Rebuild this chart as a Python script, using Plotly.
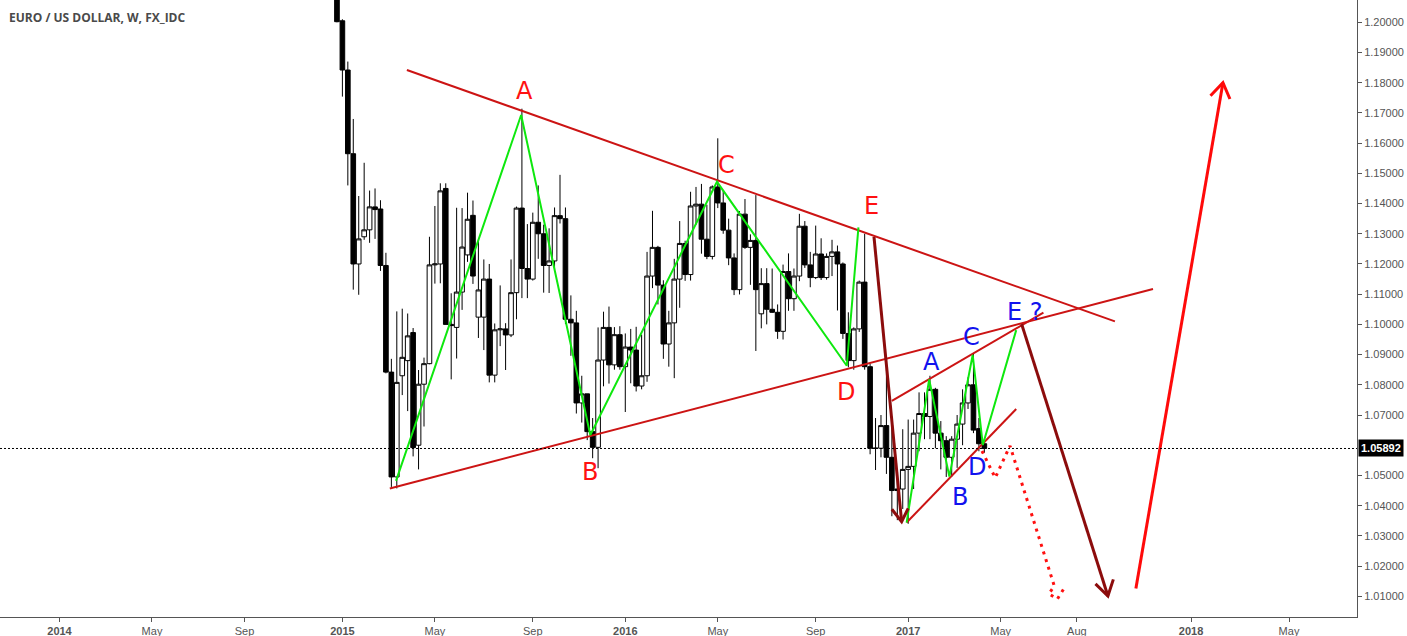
import plotly.graph_objects as go

# ---------------- weekly candles (EUR/USD, W) ----------------
weeks = [
    "2014-12-29", "2015-01-05", "2015-01-12", "2015-01-19", "2015-01-26", "2015-02-02", "2015-02-09",
    "2015-02-16", "2015-02-23", "2015-03-02", "2015-03-09", "2015-03-16", "2015-03-23", "2015-03-30",
    "2015-04-06", "2015-04-13", "2015-04-20", "2015-04-27", "2015-05-04", "2015-05-11", "2015-05-18",
    "2015-05-25", "2015-06-01", "2015-06-08", "2015-06-15", "2015-06-22", "2015-06-29", "2015-07-06",
    "2015-07-13", "2015-07-20", "2015-07-27", "2015-08-03", "2015-08-10", "2015-08-17", "2015-08-24",
    "2015-08-31", "2015-09-07", "2015-09-14", "2015-09-21", "2015-09-28", "2015-10-05", "2015-10-12",
    "2015-10-19", "2015-10-26", "2015-11-02", "2015-11-09", "2015-11-16", "2015-11-23", "2015-11-30",
    "2015-12-07", "2015-12-14", "2015-12-21", "2015-12-28", "2016-01-04", "2016-01-11", "2016-01-18",
    "2016-01-25", "2016-02-01", "2016-02-08", "2016-02-15", "2016-02-22", "2016-02-29", "2016-03-07",
    "2016-03-14", "2016-03-21", "2016-03-28", "2016-04-04", "2016-04-11", "2016-04-18", "2016-04-25",
    "2016-05-02", "2016-05-09", "2016-05-16", "2016-05-23", "2016-05-30", "2016-06-06", "2016-06-13",
    "2016-06-20", "2016-06-27", "2016-07-04", "2016-07-11", "2016-07-18", "2016-07-25", "2016-08-01",
    "2016-08-08", "2016-08-15", "2016-08-22", "2016-08-29", "2016-09-05", "2016-09-12", "2016-09-19",
    "2016-09-26", "2016-10-03", "2016-10-10", "2016-10-17", "2016-10-24", "2016-10-31", "2016-11-07",
    "2016-11-14", "2016-11-21", "2016-11-28", "2016-12-05", "2016-12-12", "2016-12-19", "2016-12-26",
    "2017-01-02", "2017-01-09", "2017-01-16", "2017-01-23", "2017-01-30", "2017-02-06", "2017-02-13",
    "2017-02-20", "2017-02-27", "2017-03-06", "2017-03-13", "2017-03-20", "2017-03-27", "2017-04-03",
    "2017-04-10",
]
opens = [
    1.2195, 1.2005, 1.1842, 1.1565, 1.1200, 1.1290, 1.1313, 1.1389, 1.1382, 1.1195, 1.0842, 1.0495,
    1.0830, 1.0880, 1.0973, 1.0600, 1.0802, 1.0870, 1.1197, 1.1200, 1.1450, 1.1000, 1.0990, 1.1107,
    1.1230, 1.1361, 1.1024, 1.1024, 1.1150, 1.0832, 1.0982, 1.0985, 1.0965, 1.1105, 1.1385, 1.1185,
    1.1150, 1.1338, 1.1300, 1.1195, 1.1210, 1.1360, 1.1350, 1.1017, 1.1005, 1.0740, 1.0770, 1.0645,
    1.0593, 1.0882, 1.0990, 1.0866, 1.0966, 1.0860, 1.0925, 1.0915, 1.0796, 1.0830, 1.1160, 1.1255,
    1.1130, 1.0935, 1.1005, 1.1150, 1.1268, 1.1165, 1.1392, 1.1398, 1.1282, 1.1225, 1.1455, 1.1402,
    1.1312, 1.1220, 1.1115, 1.1365, 1.1255, 1.1278, 1.1035, 1.1135, 1.1050, 1.1040, 1.0977, 1.1175,
    1.1085, 1.1160, 1.1325, 1.1197, 1.1155, 1.1233, 1.1155, 1.1225, 1.1240, 1.1200, 1.0970, 1.0880,
    1.0985, 1.1140, 1.0860, 1.0590, 1.0590, 1.0665, 1.0560, 1.0450, 1.0455, 1.0520, 1.0530, 1.0640,
    1.0705, 1.0695, 1.0785, 1.0640, 1.0615, 1.0560, 1.0620, 1.0670, 1.0740, 1.0800, 1.0655, 1.0605,
]
highs = [
    1.2250, 1.2010, 1.1870, 1.1680, 1.1425, 1.1535, 1.1443, 1.1450, 1.1411, 1.1237, 1.0886, 1.1043,
    1.1052, 1.1036, 1.0988, 1.0849, 1.0890, 1.1290, 1.1392, 1.1467, 1.1467, 1.1103, 1.1386, 1.1385,
    1.1436, 1.1410, 1.1278, 1.1215, 1.1200, 1.1003, 1.1129, 1.1004, 1.1215, 1.1390, 1.1714, 1.1332,
    1.1370, 1.1460, 1.1330, 1.1318, 1.1387, 1.1495, 1.1387, 1.1096, 1.1045, 1.0830, 1.0770, 1.0690,
    1.0990, 1.1042, 1.1059, 1.0991, 1.0994, 1.0970, 1.0985, 1.0992, 1.0966, 1.1240, 1.1376, 1.1260,
    1.1146, 1.1045, 1.1217, 1.1342, 1.1277, 1.1439, 1.1455, 1.1465, 1.1396, 1.1460, 1.1616, 1.1444,
    1.1350, 1.1235, 1.1375, 1.1415, 1.1298, 1.1428, 1.1186, 1.1186, 1.1185, 1.1066, 1.1198, 1.1235,
    1.1185, 1.1366, 1.1342, 1.1240, 1.1327, 1.1285, 1.1235, 1.1280, 1.1261, 1.1205, 1.1040, 1.0990,
    1.1145, 1.1300, 1.0870, 1.0690, 1.0700, 1.0875, 1.0670, 1.0500, 1.0653, 1.0685, 1.0685, 1.0775,
    1.0775, 1.0830, 1.0790, 1.0680, 1.0630, 1.0630, 1.0700, 1.0785, 1.0825, 1.0905, 1.0690, 1.0620,
]
lows = [
    1.2000, 1.1754, 1.1460, 1.1115, 1.1098, 1.1280, 1.1270, 1.1283, 1.1177, 1.0838, 1.0462, 1.0457,
    1.0766, 1.0713, 1.0563, 1.0520, 1.0662, 1.0868, 1.1135, 1.1136, 1.1000, 1.0818, 1.0887, 1.1048,
    1.1207, 1.1134, 1.0955, 1.0915, 1.0808, 1.0808, 1.0928, 1.0849, 1.0958, 1.1017, 1.1087, 1.1087,
    1.1145, 1.1217, 1.1105, 1.1104, 1.1180, 1.1334, 1.1001, 1.0896, 1.0705, 1.0675, 1.0617, 1.0557,
    1.0524, 1.0795, 1.0804, 1.0850, 1.0850, 1.0710, 1.0805, 1.0778, 1.0785, 1.0810, 1.1120, 1.1066,
    1.0886, 1.0860, 1.0822, 1.1055, 1.1144, 1.1145, 1.1330, 1.1234, 1.1216, 1.1215, 1.1385, 1.1300,
    1.1196, 1.1097, 1.1099, 1.1250, 1.1131, 1.0912, 1.0987, 1.1000, 1.1038, 1.0952, 1.0950, 1.1045,
    1.1045, 1.1143, 1.1187, 1.1123, 1.1150, 1.1147, 1.1148, 1.1160, 1.1046, 1.0952, 1.0858, 1.0850,
    1.0975, 1.0850, 1.0570, 1.0518, 1.0560, 1.0505, 1.0365, 1.0352, 1.0389, 1.0340, 1.0455, 1.0580,
    1.0620, 1.0620, 1.0590, 1.0520, 1.0495, 1.0495, 1.0525, 1.0600, 1.0720, 1.0640, 1.0580, 1.0575,
]
closes = [
    1.2002, 1.1842, 1.1565, 1.1200, 1.1283, 1.1313, 1.1389, 1.1380, 1.1195, 1.0842, 1.0495, 1.0808,
    1.0891, 1.0962, 1.0592, 1.0802, 1.0870, 1.1197, 1.1200, 1.1442, 1.1000, 1.0996, 1.1107, 1.1256,
    1.1348, 1.1160, 1.1114, 1.1150, 1.0832, 1.0982, 1.0985, 1.0965, 1.1105, 1.1385, 1.1185, 1.1150,
    1.1338, 1.1300, 1.1195, 1.1210, 1.1360, 1.1350, 1.1017, 1.1005, 1.0740, 1.0770, 1.0645, 1.0593,
    1.0882, 1.0990, 1.0866, 1.0966, 1.0860, 1.0925, 1.0915, 1.0796, 1.0830, 1.1160, 1.1255, 1.1130,
    1.0935, 1.1005, 1.1150, 1.1268, 1.1165, 1.1392, 1.1398, 1.1282, 1.1225, 1.1455, 1.1402, 1.1312,
    1.1220, 1.1115, 1.1365, 1.1255, 1.1278, 1.1115, 1.1135, 1.1050, 1.1040, 1.0977, 1.1175, 1.1085,
    1.1160, 1.1325, 1.1197, 1.1155, 1.1233, 1.1155, 1.1225, 1.1240, 1.1200, 1.0970, 1.0880, 1.0985,
    1.1140, 1.0860, 1.0590, 1.0590, 1.0665, 1.0560, 1.0450, 1.0455, 1.0520, 1.0530, 1.0640, 1.0705,
    1.0695, 1.0785, 1.0640, 1.0615, 1.0560, 1.0620, 1.0670, 1.0740, 1.0800, 1.0650, 1.0605, 1.05892,
]

# ---------------- drawings (date, price) ----------------
upper_line_x = ["2015-03-29", "2017-09-25"]
upper_line_y = [1.1842, 1.1010]
lower_line_x = ["2015-03-07", "2017-11-13"]
lower_line_y = [1.0457, 1.1117]

green_big_x = ["2015-03-15", "2015-08-23", "2015-11-20", "2016-05-01", "2016-10-15", "2016-10-30"]
green_big_y = [1.0482, 1.1693, 1.0634, 1.1472, 1.0863, 1.1321]

green_small_x = ["2016-12-31", "2017-01-29", "2017-02-24", "2017-03-26", "2017-04-08", "2017-05-21"]
green_small_y = [1.0344, 1.0818, 1.0496, 1.0899, 1.0601, 1.0981]

wedge_upper_x = ["2016-12-12", "2017-06-25"]
wedge_upper_y = [1.0747, 1.1039]
wedge_lower_x = ["2016-12-31", "2017-05-21"]
wedge_lower_y = [1.0344, 1.0720]

arrow1_x = ["2016-11-19", "2016-12-24 14:00", None, "2016-12-12", "2016-12-24 14:00", "2017-01-02"]
arrow1_y = [1.1290, 1.0347, None, 1.0388, 1.0347, 1.0391]

arrow2_x = ["2017-05-28", "2017-09-16", None, "2017-08-31", "2017-09-16", "2017-09-23"]
arrow2_y = [1.1001, 1.0101, None, 1.0141, 1.0101, 1.0156]

arrow3_x = ["2017-10-22", "2018-02-11", None, "2018-01-26", "2018-02-11", "2018-02-20"]
arrow3_y = [1.0126, 1.1800, None, 1.1757, 1.1800, 1.1746]

proj_x = ["2017-04-07", "2017-04-24", "2017-05-13", "2017-07-09", "2017-07-02", "2017-07-13", "2017-07-21"]
proj_y = [1.0581, 1.0492, 1.0598, 1.0134, 1.0108, 1.0091, 1.0124]

red_labels = ["A", "B", "C", "D", "E"]
red_label_x = ["2015-08-27", "2015-11-19", "2016-05-13", "2016-10-14", "2016-11-16"]
red_label_y = [1.1773, 1.0512, 1.1528, 1.0777, 1.1392]

blue_labels = ["A", "B", "C", "D", "E ?"]
blue_label_x = ["2017-02-01", "2017-03-10", "2017-03-24", "2017-04-01", "2017-06-01"]
blue_label_y = [1.0877, 1.0429, 1.0958, 1.0528, 1.1040]

# 1.06 is hidden behind the last-price label
price_ticks = [1.01, 1.02, 1.03, 1.04, 1.05, 1.07, 1.08, 1.09, 1.10,
               1.11, 1.12, 1.13, 1.14, 1.15, 1.16, 1.17, 1.18, 1.19, 1.20]
time_tick_vals = ["2014-01-06", "2014-05-05", "2014-09-01", "2015-01-05", "2015-05-04", "2015-09-07",
                  "2016-01-04", "2016-05-02", "2016-09-05", "2017-01-02", "2017-05-01", "2017-08-07",
                  "2018-01-01", "2018-05-07"]
time_tick_text = ["<b>2014</b>", "May", "Sep", "<b>2015</b>", "May", "Sep", "<b>2016</b>", "May", "Sep",
                  "<b>2017</b>", "May", "Aug", "<b>2018</b>", "May"]

fig = go.Figure()

fig.add_trace(go.Candlestick(
    x=weeks, open=opens, high=highs, low=lows, close=closes,
    increasing=dict(fillcolor="white", line=dict(color="black", width=1)),
    decreasing=dict(fillcolor="black", line=dict(color="black", width=1)),
    whiskerwidth=0, showlegend=False, hoverinfo="skip",
))

def line(xs, ys, color, width, dash="solid"):
    fig.add_trace(go.Scatter(x=xs, y=ys, mode="lines", showlegend=False, hoverinfo="skip",
                             line=dict(color=color, width=width, dash=dash)))

TREND = "#cc1414"
GREEN = "#0ee80e"
DARK = "#8c0c0c"
line(upper_line_x, upper_line_y, TREND, 2)
line(lower_line_x, lower_line_y, TREND, 2)
line(wedge_upper_x, wedge_upper_y, TREND, 2)
line(wedge_lower_x, wedge_lower_y, TREND, 2)
line(green_big_x, green_big_y, GREEN, 2)
line(green_small_x, green_small_y, GREEN, 2)
line(arrow1_x, arrow1_y, DARK, 3)
line(arrow2_x, arrow2_y, DARK, 3)
line(arrow3_x, arrow3_y, "#ff0a0a", 3)
line(proj_x, proj_y, "#ff1010", 3, dash="3px,5px")

annotations = []
for t, xx, yy in zip(red_labels, red_label_x, red_label_y):
    annotations.append(dict(x=xx, y=yy, xref="x", yref="y", text=t, showarrow=False,
                            font=dict(family="DejaVu Sans", size=24, color="#ff1111")))
for t, xx, yy in zip(blue_labels, blue_label_x, blue_label_y):
    annotations.append(dict(x=xx, y=yy, xref="x", yref="y", text=t, showarrow=False,
                            font=dict(family="DejaVu Sans", size=24, color="#1212ee")))

annotations.append(dict(x=0, y=1, xref="paper", yref="paper", xanchor="left", yanchor="middle",
                        xshift=7, yshift=-17, showarrow=False, text="EURO / US DOLLAR, W, FX_IDC",
                        font=dict(family="Open Sans", size=12, color="#4a4a4a", weight="bold")))
annotations.append(dict(x=1, y=closes[-1], xref="paper", yref="y", xanchor="left", yanchor="middle",
                        xshift=1, showarrow=False, text="<b>%.5f</b>" % closes[-1],
                        bgcolor="black", borderpad=2,
                        font=dict(family="Liberation Sans, Arial", size=11, color="white")))

fig.update_layout(
    width=1407, height=636,
    margin=dict(l=0, r=50, t=0, b=19),
    paper_bgcolor="white", plot_bgcolor="white",
    showlegend=False,
    boxgap=0.15, boxgroupgap=0.0,
    annotations=annotations,
    shapes=[dict(type="line", xref="paper", x0=0, x1=1, yref="y", y0=closes[-1], y1=closes[-1],
                 line=dict(color="black", width=1, dash="2px,2px"))],
    xaxis=dict(type="date", range=["2013-10-21 10:30", "2018-08-02 12:00"],
               rangeslider=dict(visible=False), showgrid=False, zeroline=False,
               showline=True, linecolor="#555555", linewidth=1,
               ticks="outside", ticklen=4, tickcolor="#555555",
               tickvals=time_tick_vals, ticktext=time_tick_text,
               tickfont=dict(family="Liberation Sans, Arial", size=11, color="#555555")),
    yaxis=dict(side="right", range=[1.00314, 1.20738], showgrid=False, zeroline=False,
               showline=True, linecolor="#555555", linewidth=1,
               ticks="outside", ticklen=4, tickcolor="#555555",
               tickvals=price_ticks, tickformat=".5f",
               tickfont=dict(family="Liberation Sans, Arial", size=11, color="#555555")),
)

fig.write_html("out.html", config={"displayModeBar": False},
               post_script="document.body.style.margin='0px';document.body.style.overflow='hidden';")
